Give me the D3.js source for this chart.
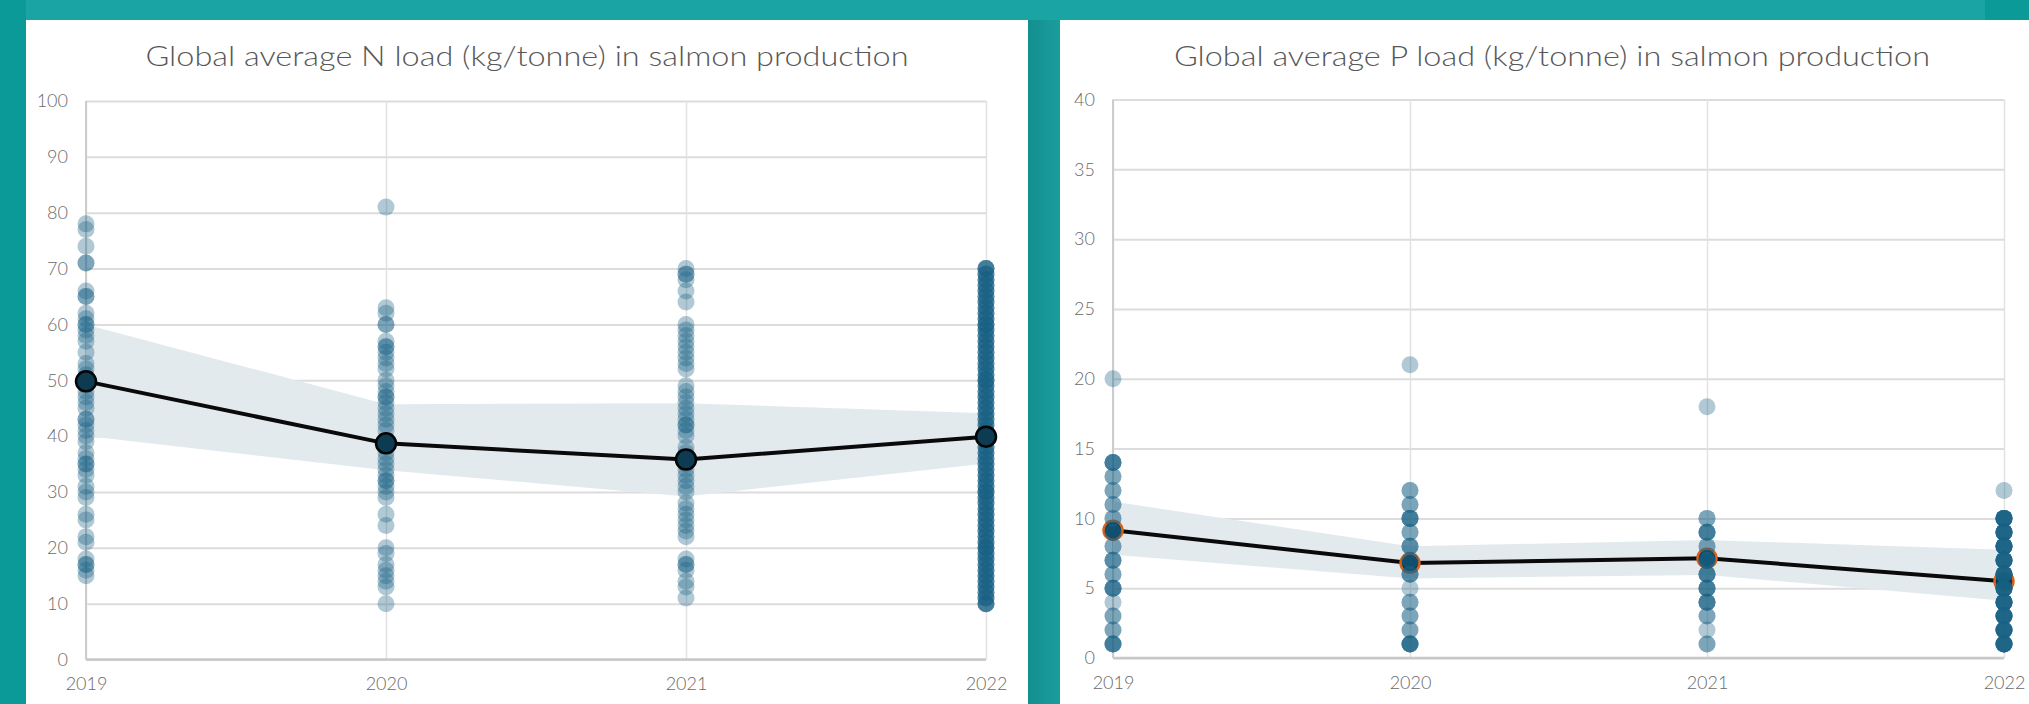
<!DOCTYPE html>
<html>
<head>
<meta charset="utf-8">
<script src="https://cdn.jsdelivr.net/npm/d3@7"></script>
<style>
  html, body { margin: 0; padding: 0; background: #17a09f; }
  svg { display: block; }
  text { font-family: Lato, "Open Sans", sans-serif; }
</style>
</head>
<body>
<svg id="chart" width="2029" height="704"></svg>
<script>
// ---------------- DATA ----------------
const years = [2019, 2020, 2021, 2022];
const nTicks = [0, 10, 20, 30, 40, 50, 60, 70, 80, 90, 100];
const pTicks = [0, 5, 10, 15, 20, 25, 30, 35, 40];

const nTitle = "Global average N load (kg/tonne) in salmon production";
const pTitle = "Global average P load (kg/tonne) in salmon production";

// individual observations, N load
const n2019 = [78, 77, 74, 71, 71, 66, 65, 65, 62, 61, 60, 60, 59, 58, 57, 55, 53, 52, 51, 50, 49, 48, 47, 46, 45, 43, 43, 42, 41, 40, 39, 37, 36, 35, 35, 34, 33, 31, 30, 29, 26, 25, 22, 21, 18, 17, 17, 16, 15];
const n2020 = [81, 63, 62, 60, 60, 57, 56, 56, 55, 54, 53, 52, 50, 49, 48, 47, 47, 46, 45, 44, 43, 42, 41, 39, 38, 37, 36, 35, 34, 33, 32, 32, 31, 30, 29, 26, 24, 20, 19, 17, 16, 15, 14, 13, 10];
const n2021 = [70, 69, 69, 68, 66, 64, 60, 59, 58, 57, 56, 55, 54, 53, 52, 49, 48, 47, 46, 45, 44, 43, 42, 42, 41, 40, 38, 37, 36, 35, 34, 33, 32, 31, 30, 28, 27, 26, 25, 24, 23, 22, 18, 17, 17, 16, 14, 13, 11];
const n2022 = [
  70, 70, 70, 70, 69, 69, 69, 68, 68, 68, 67, 67, 67, 66, 66, 66, 65, 65, 65, 64, 64, 64, 63, 63, 63, 62, 62, 62, 61, 61, 61,
  60, 60, 60, 60, 59, 59, 59, 58, 58, 58, 57, 57, 57, 56, 56, 56, 55, 55, 55, 54, 54, 54, 53, 53, 53, 52, 52, 52, 51, 51, 51,
  50, 50, 50, 50, 49, 49, 49, 48, 48, 48, 47, 47, 47, 46, 46, 46, 45, 45, 45, 44, 44, 44, 43, 43, 43, 42, 42, 42, 41, 41, 41,
  40, 40, 40, 40, 39, 39, 39, 38, 38, 38, 37, 37, 37, 36, 36, 36, 35, 35, 35, 34, 34, 34, 33, 33, 33, 32, 32, 32, 31, 31, 31,
  30, 30, 30, 30, 29, 29, 29, 28, 28, 28, 27, 27, 27, 26, 26, 26, 25, 25, 25, 24, 24, 24, 23, 23, 23, 22, 22, 22, 21, 21, 21,
  20, 20, 20, 20, 19, 19, 19, 18, 18, 18, 17, 17, 17, 16, 16, 16, 15, 15, 15, 14, 14, 14, 13, 13, 13, 12, 12, 12, 11, 11, 11,
  10, 10, 10, 10];

const nMean  = [49.8, 38.7, 35.8, 39.9];
const nUpper = [60.0, 45.7, 45.9, 44.1];
const nLower = [40.0, 33.9, 29.2, 35.1];

// individual observations, P load
const p2019 = [20, 14, 14, 14, 14, 13, 13, 12, 12, 11, 11, 10, 10, 9, 9, 8, 8, 7, 7, 7, 6, 6, 5, 5, 5, 5, 4, 3, 3, 2, 2, 1, 1, 1, 1];
const p2020 = [21, 12, 12, 11, 11, 10, 10, 10, 10, 9, 9, 8, 8, 8, 7, 7, 6, 6, 6, 5, 4, 4, 3, 3, 2, 2, 1, 1, 1, 1, 1];
const p2021 = [18, 10, 10, 9, 9, 9, 9, 8, 8, 7, 7, 7, 7, 6, 6, 6, 6, 5, 5, 5, 5, 4, 4, 4, 4, 3, 3, 2, 1, 1];
const p2022 = [12, 10, 10, 10, 10, 10, 10, 10, 10, 9, 9, 9, 9, 9, 9, 9, 9, 8, 8, 8, 8, 8, 8, 8, 8, 7, 7, 7, 7, 7, 7, 7, 7, 6, 6, 6, 6, 6, 6, 6, 6, 5, 5, 5, 5, 5, 5, 5, 5, 4, 4, 4, 4, 4, 4, 4, 4, 3, 3, 3, 3, 3, 3, 3, 3, 2, 2, 2, 2, 2, 2, 2, 2, 1, 1, 1, 1, 1, 1, 1, 1];

const pMean  = [9.15, 6.8, 7.15, 5.5];
const pUpper = [11.2, 8.0, 8.45, 7.75];
const pLower = [7.4, 5.7, 5.95, 4.1];

// ---------------- DRAW ----------------
const svg = d3.select("#chart");

// teal page background pieces
svg.append("rect").attr("x", 0).attr("y", 0).attr("width", 2029).attr("height", 704).attr("fill", "#17a09f");
svg.append("rect").attr("x", 0).attr("y", 0).attr("width", 2029).attr("height", 20).attr("fill", "#1aa5a4");
svg.append("rect").attr("x", 0).attr("y", 0).attr("width", 26).attr("height", 704).attr("fill", "#0b9a98");
svg.append("rect").attr("x", 1985).attr("y", 0).attr("width", 44).attr("height", 20).attr("fill", "#0c9a98");
const gapGrad = svg.append("defs").append("linearGradient").attr("id", "gap").attr("x1", "0").attr("x2", "1");
gapGrad.append("stop").attr("offset", "0").attr("stop-color", "#138f8f");
gapGrad.append("stop").attr("offset", "1").attr("stop-color", "#1b9d9d");
svg.append("rect").attr("x", 1028).attr("y", 20).attr("width", 32).attr("height", 684).attr("fill", "url(#gap)");

// cards
svg.append("rect").attr("x", 26).attr("y", 20).attr("width", 1002).attr("height", 700).attr("fill", "#ffffff");
svg.append("rect").attr("x", 1060).attr("y", 20).attr("width", 1000).attr("height", 700).attr("fill", "#ffffff");

function panel(cfg) {
  const g = svg.append("g");
  const x = d3.scaleLinear().domain([2019, 2022]).range([cfg.x0, cfg.x1]);
  const y = d3.scaleLinear().domain([0, cfg.ymax]).range([cfg.yb, cfg.yt]);

  // title
  g.append("text")
    .attr("x", cfg.tcx).attr("y", 66)
    .attr("text-anchor", "middle")
    .attr("fill", "#575757")
    .attr("font-weight", 300)
    .attr("font-size", 28)
    .attr("textLength", cfg.twidth)
    .attr("lengthAdjust", "spacingAndGlyphs")
    .text(cfg.title);

  // horizontal grid + y labels
  const yAxis = d3.axisLeft(y).tickValues(cfg.ticks).tickSize(-(cfg.x1 - cfg.x0)).tickPadding(18).tickFormat(d3.format("d"));
  const ya = g.append("g").attr("transform", `translate(${cfg.x0},0)`).call(yAxis);
  ya.select(".domain").remove();
  ya.selectAll(".tick line").attr("stroke", "#dcdcdc").attr("stroke-width", 2);
  ya.selectAll(".tick text").attr("fill", "#6a6a6a").attr("font-size", 18).attr("font-weight", 300)
    .style("font-family", "Lato, sans-serif");

  // vertical grid + x labels
  const xAxis = d3.axisBottom(x).tickValues(years).tickSize(-(cfg.yb - cfg.yt)).tickPadding(18).tickFormat(d3.format("d"));
  const xa = g.append("g").attr("transform", `translate(0,${cfg.yb})`).call(xAxis);
  xa.select(".domain").remove();
  xa.selectAll(".tick line").attr("stroke", "#e2e2e2").attr("stroke-width", 1.5);
  xa.selectAll(".tick text").attr("fill", "#6a6a6a").attr("font-size", 18).attr("font-weight", 300)
    .style("font-family", "Lato, sans-serif");

  // axis lines
  g.append("line").attr("x1", cfg.x0).attr("x2", cfg.x0).attr("y1", cfg.yt).attr("y2", cfg.yb).attr("stroke", "#cccccc").attr("stroke-width", 2);
  g.append("line").attr("x1", cfg.x0).attr("x2", cfg.x1).attr("y1", cfg.yb).attr("y2", cfg.yb).attr("stroke", "#c8c8c8").attr("stroke-width", 2.5);

  // confidence band
  const bandData = years.map((yr, i) => ({ yr, lo: cfg.lower[i], hi: cfg.upper[i] }));
  g.append("path").datum(bandData)
    .attr("fill", "#e3eaee")
    .attr("d", d3.area().x(d => x(d.yr)).y0(d => y(d.lo)).y1(d => y(d.hi)));

  const pts = [];
  years.forEach((yr, i) => cfg.points[i].forEach(v => pts.push({ yr, v })));
  const meanData = years.map((yr, i) => ({ yr, v: cfg.mean[i] }));
  const lineGen = d3.line().x(d => x(d.yr)).y(d => y(d.v));

  const drawPoints = () => g.append("g").selectAll("circle").data(pts).join("circle")
    .attr("cx", d => x(d.yr)).attr("cy", d => y(d.v)).attr("r", 8.5)
    .attr("fill", "#186084").attr("fill-opacity", 0.34);
  const drawLine = () => g.append("path").datum(meanData)
    .attr("fill", "none").attr("stroke", "#0a0a0a").attr("stroke-width", 4).attr("d", lineGen);
  const drawMeans = () => g.append("g").selectAll("circle").data(meanData).join("circle")
    .attr("cx", d => x(d.yr)).attr("cy", d => y(d.v)).attr("r", cfg.meanR)
    .attr("fill", cfg.meanFill).attr("stroke", cfg.meanStroke).attr("stroke-width", 2.5);

  if (cfg.meansOnTop) { drawPoints(); drawLine(); drawMeans(); }
  else { drawLine(); drawMeans(); drawPoints(); }
}

panel({
  title: nTitle, tcx: 527, twidth: 763,
  x0: 86, x1: 986, yt: 101, yb: 659.5, ymax: 100, ticks: nTicks,
  points: [n2019, n2020, n2021, n2022],
  mean: nMean, upper: nUpper, lower: nLower,
  meanFill: "#0c3b52", meanStroke: "#050505", meanR: 10, meansOnTop: true
});

panel({
  title: pTitle, tcx: 1552, twidth: 756,
  x0: 1113, x1: 2004, yt: 99.5, yb: 658, ymax: 40, ticks: pTicks,
  points: [p2019, p2020, p2021, p2022],
  mean: pMean, upper: pUpper, lower: pLower,
  meanFill: "#0c3b52", meanStroke: "#d8621e", meanR: 9.5, meansOnTop: false
});
</script>
</body>
</html>
